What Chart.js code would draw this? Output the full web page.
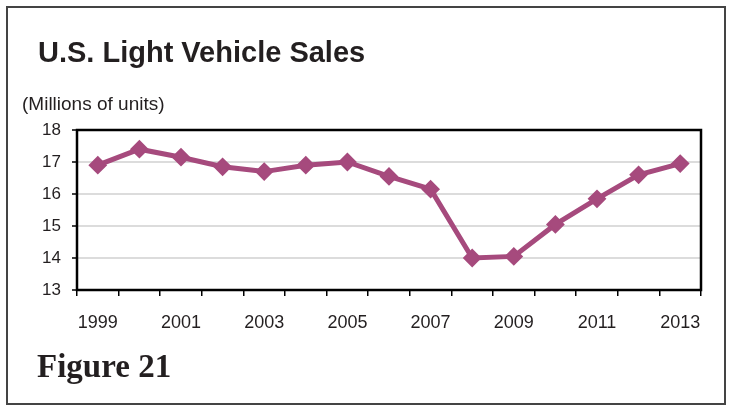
<!DOCTYPE html>
<html>
<head>
<meta charset="utf-8">
<script src="https://cdn.jsdelivr.net/npm/chart.js@4.4.1/dist/chart.umd.min.js"></script>
<style>
    html, body { margin: 0; padding: 0; background: #fff; }
    #wrap { position: relative; width: 730px; height: 407px; overflow: hidden; }
    #frame {
        position: absolute; left: 6px; top: 6px; width: 720px; height: 399px;
        box-sizing: border-box; border: 2px solid #444;
    }
    #salesChart { position: absolute; left: 0; top: 0; }
    .txt { position: absolute; color: #231f20; white-space: nowrap; }
    #title { left: 38px; top: 38px; font: bold 29px/29px "Liberation Sans", Arial, sans-serif; }
    #units { left: 22px; top: 94px; font: 19px/19px "Liberation Sans", Arial, sans-serif; }
    #figure { left: 37px; top: 350px; font: bold 33px/33px "Liberation Serif", "Times New Roman", serif; }
</style>
</head>
<body>
<div id="wrap">
    <div id="frame"></div>
    <canvas id="salesChart" width="730" height="407"></canvas>
    <div class="txt" id="title">U.S. Light Vehicle Sales</div>
    <div class="txt" id="units">(Millions of units)</div>
    <div class="txt" id="figure">Figure 21</div>
</div>
<script>
const years = ['1999', '2000', '2001', '2002', '2003', '2004', '2005', '2006',
               '2007', '2008', '2009', '2010', '2011', '2012', '2013'];
const sales = [16.9, 17.4, 17.15, 16.85, 16.7, 16.9, 17.0, 16.55,
               16.15, 14.0, 14.05, 15.05, 15.85, 16.6, 16.95];
const yTicks = [13, 14, 15, 16, 17, 18];

const lineColor = '#a64a7d';

// black box around the plot area, drawn under the line
const plotBox = {
    id: 'plotBox',
    beforeDatasetsDraw(chart) {
        const a = chart.chartArea;
        const ctx = chart.ctx;
        ctx.save();
        ctx.strokeStyle = '#000';
        ctx.lineWidth = 2.5;
        ctx.strokeRect(a.left, a.top, a.right - a.left, a.bottom - a.top);
        ctx.restore();
    }
};

const ctx = document.getElementById('salesChart').getContext('2d');
const salesChart = new Chart(ctx, {
    type: 'line',
    data: {
        labels: years,
        datasets: [{
            label: 'Sales',
            data: sales,
            borderColor: lineColor,
            backgroundColor: lineColor,
            borderWidth: 5,
            tension: 0,
            pointStyle: 'rectRot',
            pointRadius: 8,
            pointBorderWidth: 2,
            pointBorderColor: lineColor,
            pointBackgroundColor: lineColor
        }]
    },
    options: {
        responsive: false,
        animation: false,
        devicePixelRatio: 1,
        layout: {
            padding: { left: 30, right: 29, top: 130, bottom: 67 }
        },
        plugins: {
            legend: { display: false },
            tooltip: { enabled: false }
        },
        scales: {
            x: {
                type: 'category',
                offset: true,
                grid: {
                    offset: true,
                    drawOnChartArea: false,
                    drawTicks: true,
                    tickLength: 6,
                    color: '#000',
                    lineWidth: 1.5
                },
                border: { display: false },
                ticks: {
                    autoSkip: false,
                    maxRotation: 0,
                    padding: 16,
                    color: '#231f20',
                    font: { family: '"Liberation Sans", Arial, sans-serif', size: 18 },
                    callback: function(value, index) {
                        return index % 2 === 0 ? years[index] : '';
                    }
                },
                afterFit: function(scale) { scale.height = 50; }
            },
            y: {
                min: 13,
                max: 18,
                afterBuildTicks: function(scale) {
                    scale.ticks = yTicks.map(v => ({ value: v }));
                },
                grid: {
                    color: '#dcdcdc',
                    lineWidth: 2,
                    tickColor: '#000',
                    tickLength: 5,
                    tickWidth: 1.5
                },
                border: { display: false },
                ticks: {
                    padding: 11,
                    color: '#231f20',
                    font: { family: '"Liberation Sans", Arial, sans-serif', size: 17 }
                },
                afterFit: function(scale) { scale.width = 47; }
            }
        }
    },
    plugins: [plotBox]
});
</script>
</body>
</html>
